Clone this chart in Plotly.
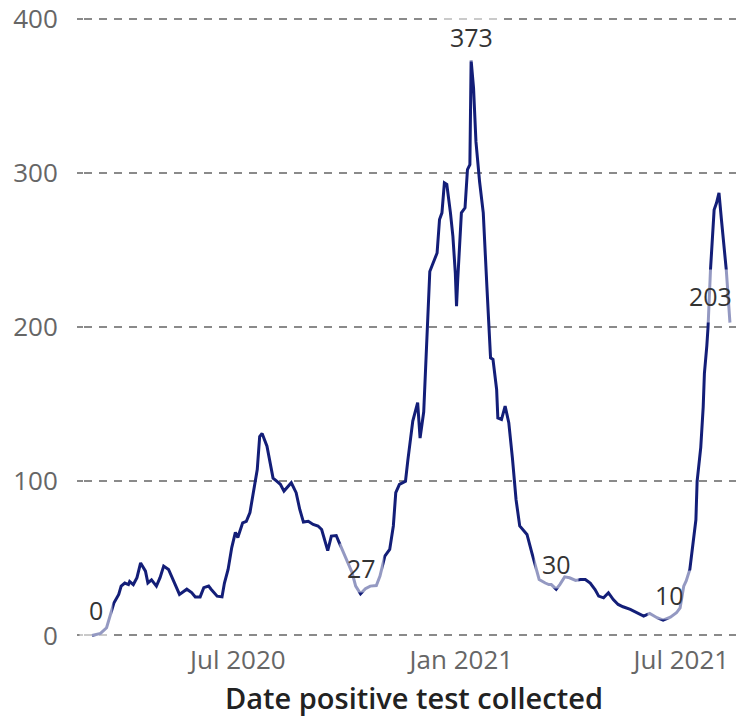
import plotly.graph_objects as go

dates = [
    "2020-03-03", "2020-03-10", "2020-03-15", "2020-03-18", "2020-03-21", "2020-03-25",
    "2020-03-27", "2020-03-30", "2020-04-02", "2020-04-03", "2020-04-06", "2020-04-09",
    "2020-04-12", "2020-04-16", "2020-04-18", "2020-04-21", "2020-04-25", "2020-04-28",
    "2020-05-01", "2020-05-05", "2020-05-08", "2020-05-12", "2020-05-14", "2020-05-20",
    "2020-05-24", "2020-05-27", "2020-05-31", "2020-06-03", "2020-06-07", "2020-06-09",
    "2020-06-14", "2020-06-18", "2020-06-20", "2020-06-23", "2020-06-26", "2020-06-29",
    "2020-07-01", "2020-07-05", "2020-07-08", "2020-07-11", "2020-07-14", "2020-07-17",
    "2020-07-19", "2020-07-21", "2020-07-25", "2020-07-27", "2020-07-30", "2020-08-02",
    "2020-08-05", "2020-08-08", "2020-08-12", "2020-08-14", "2020-08-18", "2020-08-21",
    "2020-08-24", "2020-08-28", "2020-09-01", "2020-09-05", "2020-09-08", "2020-09-11",
    "2020-09-13", "2020-09-16", "2020-09-20", "2020-09-22", "2020-09-26", "2020-09-29",
    "2020-10-03", "2020-10-06", "2020-10-10", "2020-10-14", "2020-10-18", "2020-10-23",
    "2020-10-26", "2020-10-30", "2020-11-03", "2020-11-06", "2020-11-08", "2020-11-11",
    "2020-11-16", "2020-11-18", "2020-11-22", "2020-11-26", "2020-11-28", "2020-12-01",
    "2020-12-02", "2020-12-05", "2020-12-06", "2020-12-08", "2020-12-12", "2020-12-14",
    "2020-12-16", "2020-12-18", "2020-12-20", "2020-12-23", "2020-12-25", "2020-12-27",
    "2020-12-28", "2020-12-29", "2020-12-31", "2021-01-01", "2021-01-04", "2021-01-06",
    "2021-01-08", "2021-01-09", "2021-01-11", "2021-01-13", "2021-01-16", "2021-01-19",
    "2021-01-22", "2021-01-25", "2021-01-27", "2021-01-30", "2021-01-31", "2021-02-03",
    "2021-02-06", "2021-02-09", "2021-02-12", "2021-02-15", "2021-02-18", "2021-02-24",
    "2021-02-28", "2021-03-04", "2021-03-06", "2021-03-11", "2021-03-14", "2021-03-16",
    "2021-03-20", "2021-03-23", "2021-03-27", "2021-03-31", "2021-04-05", "2021-04-09",
    "2021-04-13", "2021-04-17", "2021-04-21", "2021-04-24", "2021-04-28", "2021-05-02",
    "2021-05-06", "2021-05-10", "2021-05-14", "2021-05-20", "2021-05-25", "2021-05-31",
    "2021-06-05", "2021-06-11", "2021-06-16", "2021-06-22", "2021-06-27", "2021-06-30",
    "2021-07-03", "2021-07-05", "2021-07-08", "2021-07-11", "2021-07-13", "2021-07-14",
    "2021-07-17", "2021-07-19", "2021-07-20", "2021-07-22", "2021-07-23", "2021-07-25",
    "2021-07-28", "2021-07-30", "2021-08-01", "2021-08-03", "2021-08-06", "2021-08-07",
    "2021-08-10",
]

cases = [
    0, 1.3, 5, 12.5, 21, 26.6,
    32, 34, 33, 35, 33, 37.5,
    47, 41.7, 34, 36, 32, 37.5,
    45, 42.8, 37.5, 30, 26.6, 30,
    27.8, 25, 25, 31, 32, 30,
    25.5, 25, 34, 42.8, 57, 66.8,
    63.5, 73, 74, 79.7, 92.6, 107.6,
    129, 131, 122.7, 114, 102, 100,
    98, 93.6, 97, 99, 92.6, 81.7,
    73.5, 74, 72, 71, 68.7, 60,
    55, 64.4, 64.8, 61, 53.6, 49,
    40.8, 32, 27, 30.3, 32, 32.4,
    38.5, 51.4, 55.8, 71, 92.6, 98,
    100, 114, 139, 151, 128, 145,
    165, 215, 236, 240, 248, 269.7,
    274, 293.4, 292.4, 274, 258.9, 235,
    213.5, 230.8, 258.9, 274, 277.3, 302,
    305.3, 373, 355, 320, 294, 274,
    226, 180, 179, 159.5, 141, 140,
    148.7, 138, 115, 88, 71, 65.5,
    53.6, 42.8, 36.3, 34, 33, 33,
    30, 33, 38, 37.4, 35.7, 36.3,
    36.3, 34, 29.8, 25.5, 24.4, 27.7,
    23.3, 20.1, 18.6, 16.9, 14.7, 12.5,
    14.3, 11.5, 10, 11.9, 14.7, 17.9,
    32, 35.3, 42.8, 64.4, 75, 100,
    122, 148, 170, 188, 200, 237,
    276, 280.5, 287, 269.7, 243.8, 237,
    203,
]

label_dates = ["2020-03-03", "2020-10-10", "2021-01-09", "2021-03-20", "2021-06-16", "2021-08-10"]
label_values = [0, 27, 373, 30, 10, 203]

y_ticks = [0, 100, 200, 300, 400]
x_tick_dates = ["2020-07-01", "2021-01-01", "2021-07-01"]
x_tick_text = ["Jul 2020", "Jan 2021", "Jul 2021"]

FONT = "Open Sans, Noto Sans, sans-serif"
LINE_COLOR = "#131e78"

fig = go.Figure()
fig.add_trace(go.Scatter(
    x=dates, y=cases, mode="lines",
    line=dict(color=LINE_COLOR, width=3),
    hoverinfo="x+y", showlegend=False,
))

shifts = [(4, 25), (1, 26), (0, 23), (0, 25), (6, 25), (-19, 26)]
pads = [9, 7, 7, 7, 7, 9]
for d, v, (dx, dy), p in zip(label_dates, label_values, shifts, pads):
    fig.add_annotation(
        x=d, y=v, text=str(v), showarrow=False,
        xshift=dx, yshift=dy,
        font=dict(family=FONT, size=25, color="#333333"),
        bgcolor="rgba(255,255,255,0.55)", borderpad=p,
    )

fig.update_layout(
    width=744, height=721,
    margin=dict(l=76, r=8, t=9, b=92, autoexpand=False),
    plot_bgcolor="white", paper_bgcolor="white",
    font=dict(family=FONT),
    xaxis=dict(
        type="date", automargin=False,
        range=["2020-02-25 10:00", "2021-08-21 14:00"],
        tickmode="array", tickvals=x_tick_dates, ticktext=x_tick_text,
        showgrid=False, zeroline=False, showline=False, ticks="",
        tickfont=dict(family=FONT, size=26, color="#666666"),
        ticklabelstandoff=5, ticklabeloverflow="allow",
        title=dict(text="Date positive test collected",
                   font=dict(family=FONT, size=29, color="#222222", weight=600),
                   standoff=12),
    ),
    yaxis=dict(
        range=[-1, 401], automargin=False,
        tickmode="array", tickvals=y_ticks,
        showgrid=True, gridcolor="#8a8a8a", gridwidth=1.6, griddash="8px,7px",
        zeroline=False, showline=False,
        ticks="outside", ticklen=6, tickwidth=1.5, tickcolor="#8a8a8a",
        tickfont=dict(family=FONT, size=26, color="#666666"),
        ticklabelstandoff=14, ticklabeloverflow="allow",
    ),
)

fig.write_html("out.html")
